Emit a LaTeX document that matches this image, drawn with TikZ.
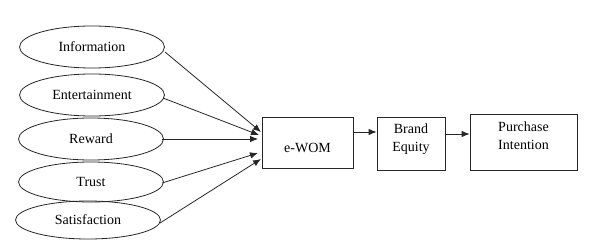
\documentclass[tikz,border=0pt]{standalone}
\usepackage{fontspec}
\setmainfont{Liberation Serif}
\usetikzlibrary{shapes.geometric,arrows.meta}
\begin{document}
\begin{tikzpicture}[x=1pt,y=-1pt,
  every node/.style={font=\fontsize{14}{16}\selectfont},
  oval/.style={draw=black!85,line width=0.8pt,ellipse,minimum width=145pt,minimum height=42pt,inner sep=0pt},
  boxn/.style={draw=black!85,line width=0.8pt,rectangle,inner sep=0pt},
  txt/.style={inner sep=0pt,align=center,font=\fontsize{14}{18}\selectfont},
  arr/.style={draw=black!85,line width=0.8pt,-{Latex[length=8pt,width=6.5pt]}}]
\useasboundingbox (0,0) rectangle (599,251);
\node[oval] (info) at (92,47) {Information};
\node[oval] (ent) at (92,95) {Entertainment};
\node[oval] (rew) at (91,139) {Reward};
\node[oval,minimum height=40pt] (trust) at (91,182) {Trust};
\node[oval,minimum height=38pt] (sat) at (88,220) {Satisfaction};
\node[boxn,minimum width=91pt,minimum height=51pt] (ewom) at (307.5,142.5) {};
\node[boxn,minimum width=68pt,minimum height=53pt] (brand) at (411,143.5) {};
\node[boxn,minimum width=107pt,minimum height=56pt] (purch) at (523.5,142) {};
\node[txt] (ewomt) at (307.5,148) {e-WOM};
\node[txt] (brandt) at (411,139) {Brand\\Equity};
\node[txt] (purcht) at (523.5,136) {Purchase\\Intention};
\coordinate (p1) at (261,132);
\coordinate (p2) at (259,135);
\coordinate (p3) at (258,139);
\coordinate (p4) at (258,153);
\coordinate (p5) at (261,159);
\coordinate (i1) at (165,52);
\coordinate (i2) at (163,98);
\coordinate (i3) at (162,139);
\coordinate (i4) at (162,183);
\coordinate (i5) at (160,223);
\draw[arr] (i1) -- (p1);
\draw[arr] (i2) -- (p2);
\draw[arr] (i3) -- (p3);
\draw[arr] (i4) -- (p4);
\draw[arr] (i5) -- (p5);
\draw[arr] (ewom.east |- 0,132) -- (brand.west |- 0,132);
\draw[arr] (brand.east |- 0,134) -- (purch.west |- 0,134);
\end{tikzpicture}
\end{document}
